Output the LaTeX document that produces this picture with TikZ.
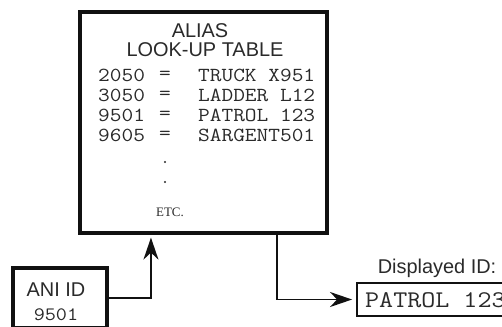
\documentclass[tikz,border=0pt]{standalone}
\usepackage{fontspec}
\setmainfont{Liberation Sans}
\setmonofont{Latin Modern Mono}[FakeStretch=1.14]
\newfontfamily\etcfont{Liberation Serif}
\usetikzlibrary{arrows.meta,positioning,calc}
\definecolor{Ink}{HTML}{111111}
\definecolor{Quiet}{HTML}{2A2A2A}
\tikzset{
  bx/.style={rectangle,draw=Ink,line width=3.2pt,fill=white,inner sep=0pt},
  lead/.style={draw=Ink,line width=1.9pt,-{Stealth[length=22bp,width=15bp,inset=7bp]}},
  hd/.style={font=\fontsize{20}{22}\selectfont,text=Quiet,inner sep=0pt},
  mono/.style={font=\ttfamily\fontsize{20}{22}\selectfont,text=Quiet,inner sep=0pt},
  dotm/.style={circle,fill=Quiet,inner sep=0pt,minimum size=2.4bp},
}
\begin{document}
\begin{tikzpicture}[x=1bp,y=-1bp]
\useasboundingbox (0,0) rectangle (502,326);
\clip (0,0) rectangle (502,326);
% -alias table-
\node[bx,minimum width=247bp,minimum height=221bp] (tbl) at (203.5,122.5) {};
\node[hd] (alias) at (200,31) {ALIAS};
\node[hd] (lookup) at (205,50) {LOOK-UP TABLE};
\foreach \n/\s [count=\i from 0] in {2050/TRUCK X951,3050/LADDER L12,9501/PATROL 123,9605/SARGENT501}{
  \node[mono,anchor=west] (k\i) at (98,75+20*\i) {\n};
  \node[mono] (eq\i) at (165,75+20*\i) {=};
  \node[mono,anchor=west] (v\i) at (198,75+20*\i) {\s};
}
\node[dotm] (d1) at (165,162) {};
\node[dotm] (d2) at (165,182) {};
\node[font=\etcfont\fontsize{13}{14}\selectfont,text=Quiet,inner sep=0pt] (etc) at (170,212) {ETC.};
% -ani-
\node[bx,minimum width=94bp,minimum height=60bp] (ani) at (60,298) {};
\node[hd] (anilbl) at (56,290) {ANI ID};
\node[mono,font=\ttfamily\fontsize{19}{21}\selectfont] (anino) at (56,315) {9501};
% -display-
\node[bx,line width=1.9pt,minimum width=170bp,minimum height=33bp] (disp) at (442,299.5) {};
\node[mono,font=\ttfamily\fontsize{24}{26}\selectfont,anchor=west] (shown) at (365,300) {PATROL 123};
\node[hd] (displbl) at (437,268) {Displayed ID:};
% -leads-
\draw[lead,shorten >=3bp] (ani.east) -| ($(tbl.south west)!0.29!(tbl.south east)$);
\draw[lead,shorten >=4bp] ($(tbl.south west)!0.794!(tbl.south east)$) |- (disp.west);
\end{tikzpicture}
\end{document}
